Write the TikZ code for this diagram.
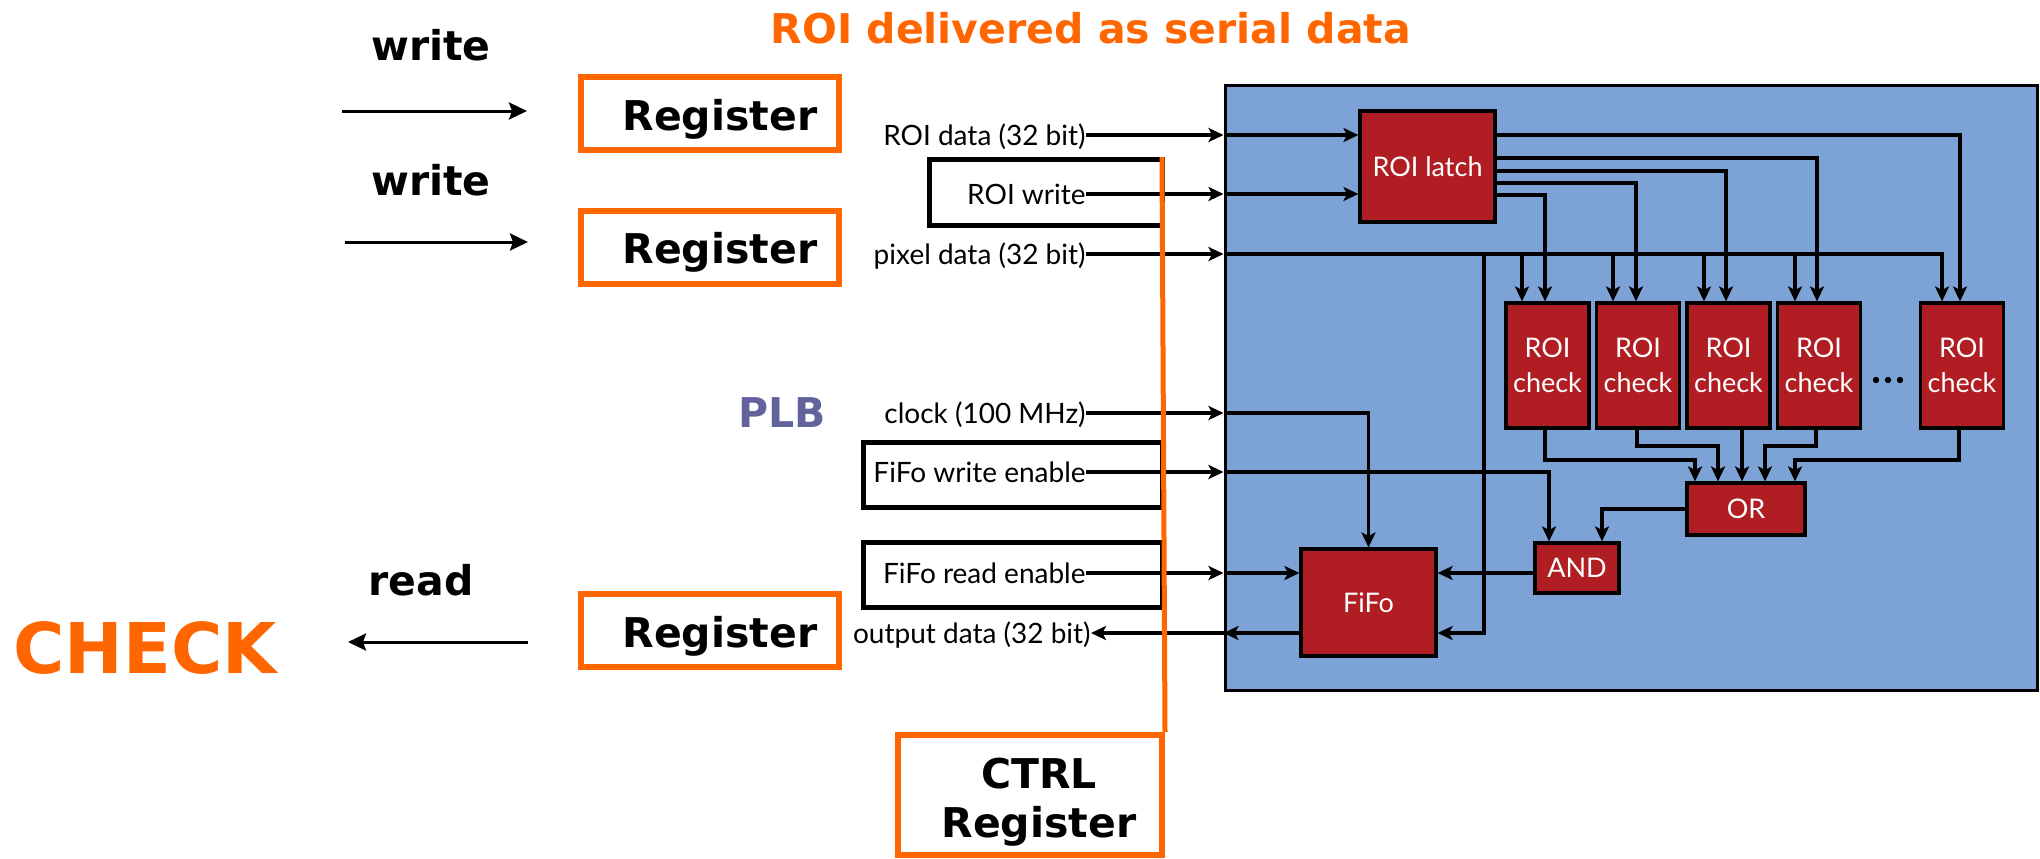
\documentclass[tikz,border=0pt]{standalone}
\usepackage{fontspec}
\setmainfont{Lato}
\newfontfamily\vfont{DejaVu Sans}
\usetikzlibrary{arrows.meta}
\definecolor{roiorange}{RGB}{255,102,0}
\definecolor{blockblue}{RGB}{125,162,213}
\definecolor{blockred}{RGB}{176,30,35}
\definecolor{plbpurple}{RGB}{98,98,156}
\begin{document}
\begin{tikzpicture}[x=0.5pt,y=-0.5pt,
  bigtext/.style={font=\vfont\bfseries\fontsize{20.5}{24}\selectfont, inner sep=0pt, anchor=base},
  regbox/.style={draw=roiorange, line width=3pt, minimum width=129pt, minimum height=36.5pt, inner sep=0pt},
  frame/.style={draw=black, line width=2.5pt, inner sep=0pt},
  sig/.style={font=\fontsize{14}{16}\selectfont, inner sep=0pt, anchor=east, text height=10pt, text depth=0pt},
  block/.style={draw=black, line width=1.6pt, fill=blockred, text=white, font=\fontsize{13.5}{17.5}\selectfont, align=center, inner sep=0pt},
  wire/.style={line width=1.8pt},
  arr/.style={wire, -{Stealth[length=7.5pt,width=7pt,inset=1.8pt]}},
  bigarr/.style={line width=1.5pt, -{Stealth[length=9pt,width=8.5pt,inset=1.5pt]}}
]
\useasboundingbox (0,0) rectangle (2040,858);

% headings
\node[bigtext, text=roiorange] (title) at (1091,43) {ROI delivered as serial data};
\node[bigtext] (w1) at (431,60) {write};
\node[bigtext] (w2) at (431,195) {write};
\node[bigtext] (rd) at (421,595) {read};
\node[bigtext, text=roiorange, font=\vfont\bfseries\fontsize{35}{40}\selectfont] (check) at (145,673) {CHECK};
\node[bigtext, text=plbpurple] (plb) at (782,427) {PLB};

% left arrows
\coordinate (a1s) at (342,111); \coordinate (a1e) at (527,111);
\coordinate (a2s) at (345,242); \coordinate (a2e) at (528,242);
\coordinate (a3s) at (528,642); \coordinate (a3e) at (348,642);
\draw[bigarr] (a1s) -- (a1e);
\draw[bigarr] (a2s) -- (a2e);
\draw[bigarr] (a3s) -- (a3e);

% registers
\node[regbox] (reg1) at (710,113.5) {};
\node[bigtext] (reg1t) at (720,130) {Register};
\node[regbox] (reg2) at (710,247) {};
\node[bigtext] (reg2t) at (720,263) {Register};
\node[regbox] (reg3) at (710,630.5) {};
\node[bigtext] (reg3t) at (720,647) {Register};
\node[regbox, minimum width=132pt, minimum height=60pt] (ctrl) at (1030,795) {};
\node[bigtext] (ctrlt1) at (1039,788) {CTRL};
\node[bigtext] (ctrlt2) at (1039,837) {Register};

% black frames
\node[frame, minimum width=116.25pt, minimum height=33pt] (fw) at (1045.75,192.5) {};
\node[frame, minimum width=149.25pt, minimum height=32.5pt] (fwe) at (1012.75,475) {};
\node[frame, minimum width=149.25pt, minimum height=32.5pt] (fre) at (1012.75,575) {};

% signal labels
\node[sig] (lroi) at (1086,135) {ROI data (32 bit)};
\node[sig] (lwr) at (1086,194) {ROI write};
\node[sig] (lpix) at (1086,254) {pixel data (32 bit)};
\node[sig] (lclk) at (1086,413) {clock (100 MHz)};
\node[sig] (lfwe) at (1086,472) {FiFo write enable};
\node[sig] (lfre) at (1086,573) {FiFo read enable};
\node[sig] (lout) at (1091,633) {output data (32 bit)};

% blue area
\node[draw=black, line width=1.5pt, fill=blockblue, minimum width=406pt, minimum height=302.5pt, inner sep=0pt] (blue) at (1631,387.5) {};

% blocks
\node[block, minimum width=67.5pt, minimum height=55.5pt] (latch) at (1427.5,166.5) {ROI latch};
\foreach \i/\x in {1/1547.5,2/1638,3/1728.5,4/1819,5/1962}
  \node[block, minimum width=41.5pt, minimum height=62.5pt] (chk\i) at (\x,365.5) {ROI\\check};
\node[block, minimum width=59pt, minimum height=26pt] (or) at (1746,509) {OR};
\node[block, minimum width=42pt, minimum height=25pt] (and) at (1577,568) {AND};
\node[block, minimum width=67.5pt, minimum height=53.5pt] (fifo) at (1368.5,602.5) {FiFo};
\foreach \x in {1876,1888,1900} \fill (\x,380) circle[radius=1.6pt];

% helper coordinates
\coordinate (y135) at (0,135);
\coordinate (y158) at (0,158);
\coordinate (y171) at (0,171);
\coordinate (y183) at (0,183);
\coordinate (y195) at (0,195);
\coordinate (y446) at (0,446);
\coordinate (y460) at (0,460);
\foreach \i/\p/\q in {1/-12.75/-1.25, 2/-12.5/-1, 3/-12.25/-1.25, 4/-12/-1, 5/-10/-1} {
  \coordinate (pin\i) at ([xshift=\p pt]chk\i.north);
  \coordinate (lin\i) at ([xshift=\q pt]chk\i.north);
}
\foreach \i/\e in {1/-1.25, 2/-0.5, 3/6.75, 4/-1.5, 5/-1.5}
  \coordinate (co\i) at ([xshift=\e pt]chk\i.south);
\foreach \i/\d in {1/-25.5, 2/-14, 3/-2, 4/9.5, 5/24.5}
  \coordinate (oi\i) at ([xshift=\d pt]or.north);
\coordinate (ai1) at ([xshift=-14pt]and.north);
\coordinate (ai2) at ([xshift=12.5pt]and.north);
\coordinate (pb) at (1484,633);

% inputs crossing the border
\foreach \l in {lroi,lwr,lpix,lclk,lfwe,lfre}
  \draw[arr] (\l.east) -- (\l.east -| blue.west);
\draw[arr] (lroi.east -| blue.west) -- (lroi.east -| latch.west);
\draw[arr] (lwr.east -| blue.west) -- (lwr.east -| latch.west);

% pixel bus
\draw[arr] (lpix.east -| blue.west) -| (pin5);
\foreach \i in {1,...,4} \draw[arr] (pin\i |- lpix.east) -- (pin\i);

% latch outputs
\draw[arr] (latch.east |- y135) -| (lin5);
\draw[arr] (latch.east |- y158) -| (lin4);
\draw[arr] (latch.east |- y171) -| (lin3);
\draw[arr] (latch.east |- y183) -| (lin2);
\draw[arr] (latch.east |- y195) -| (lin1);

% check outputs to OR
\draw[arr] (co1) -- (co1 |- y460) -| (oi1);
\draw[arr] (co2) -- (co2 |- y446) -| (oi2);
\draw[arr] (co3) -- (oi3);
\draw[arr] (co4) -- (co4 |- y446) -| (oi4);
\draw[arr] (co5) -- (co5 |- y460) -| (oi5);

% control logic
\draw[arr] (or.west) -| (ai2);
\draw[arr] (lfwe.east -| blue.west) -| (ai1);
\draw[arr] (lclk.east -| blue.west) -| (fifo.north);
\draw[arr] (lfre.east -| blue.west) -- (lfre.east -| fifo.west);
\draw[arr] (lfre.east -| and.west) -- (lfre.east -| fifo.east);
\draw[arr] (lpix.east -| pb) -- (pb) -- (pb -| fifo.east);
\draw[arr] (pb -| fifo.west) -- (pb -| blue.west);
\draw[arr] (pb -| blue.west) -- (lout.east);

% orange PLB line
\coordinate (otop) at (1162,157);
\draw[roiorange, line width=2.5pt] (otop) -- (ctrl.north east);
\end{tikzpicture}
\end{document}
